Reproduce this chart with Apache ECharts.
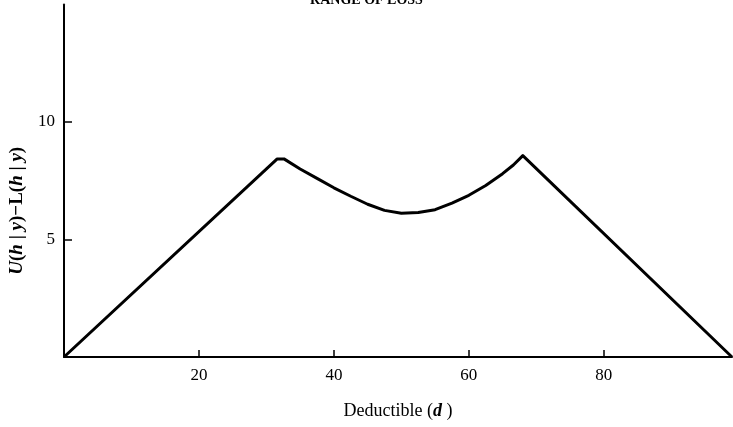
<!DOCTYPE html>
<html>
<head>
<meta charset="utf-8">
<script src="https://cdn.jsdelivr.net/npm/echarts@6/dist/echarts.min.js"></script>
<style>
html, body { margin: 0; padding: 0; background: #fff; }
</style>
</head>
<body>
<div id="ch" style="width: 733px; height: 427px;"></div>

<script>
// deductible d and U(h|y) - L(h|y)
var deductible = [0, 31.6, 32.6, 35, 37.5, 40, 42.5, 45, 47.5, 50, 52.5, 55, 57.5, 60, 62.5, 65, 66.6, 68, 99]
var gapValues = [0, 8.43, 8.43, 8.0, 7.6, 7.2, 6.84, 6.5, 6.24, 6.12, 6.15, 6.27, 6.55, 6.88, 7.3, 7.8, 8.17, 8.57, 0]
var xTicks = [20, 40, 60, 80]
var yTicks = [5, 10]
var topTitle = 'RANGE OF LOSS'

var serif = '"Liberation Serif", "DejaVu Serif", serif'

var chartInst = echarts.init(document.getElementById('ch'))

var pts = deductible.map(function(d, i) {
    return [d, gapValues[i]]
})

var option = {
    animation: false,
    backgroundColor: '#fff',
    title: {
        text: topTitle,
        left: 'center',
        top: -12,
        textStyle: {
            fontFamily: serif,
            fontSize: 14,
            fontWeight: 'bold',
            color: '#000'
        }
    },
    grid: {
        left: 64,
        right: 1,
        top: 4.5,
        bottom: 70,
        outerBoundsMode: 'none',
        containLabel: false
    },
    xAxis: {
        type: 'value',
        min: 0,
        max: 99,
        interval: 20,
        name: 'Deductible ({i|d} )',
        nameLocation: 'middle',
        nameGap: 45,
        nameTextStyle: {
            fontFamily: serif,
            fontSize: 18,
            color: '#000',
            rich: {
                i: { fontFamily: serif, fontSize: 18, fontStyle: 'italic', fontWeight: 'bold', color: '#000' }
            }
        },
        axisLine: { lineStyle: { color: '#000', width: 2 } },
        axisTick: {
            inside: true,
            length: 7,
            customValues: xTicks,
            lineStyle: { color: '#000', width: 1.5 }
        },
        axisLabel: {
            customValues: xTicks,
            margin: 10,
            fontFamily: serif,
            fontSize: 17,
            color: '#000'
        },
        splitLine: { show: false }
    },
    yAxis: {
        type: 'value',
        min: 0,
        max: 15,
        interval: 5,
        name: '{i|U}({i|h} | {i|y})\u2212L({i|h} | {i|y})',
        nameLocation: 'middle',
        nameGap: 37,
        nameTextStyle: {
            fontFamily: serif,
            fontSize: 19,
            fontWeight: 'bold',
            color: '#000',
            padding: [0, 60, 0, 0],
            rich: {
                i: { fontFamily: serif, fontSize: 19, fontStyle: 'italic', fontWeight: 'bold', color: '#000' }
            }
        },
        axisLine: { lineStyle: { color: '#000', width: 2 } },
        axisTick: {
            inside: true,
            length: 8,
            customValues: yTicks,
            lineStyle: { color: '#000', width: 1.5 }
        },
        axisLabel: {
            customValues: yTicks,
            margin: 9,
            fontFamily: serif,
            fontSize: 17,
            color: '#000'
        },
        splitLine: { show: false }
    },
    series: [{
        type: 'line',
        data: pts,
        symbol: 'none',
        clip: false,
        lineStyle: { color: '#000', width: 3, join: 'round' }
    }]
}

chartInst.setOption(option)
</script>
</body>
</html>
